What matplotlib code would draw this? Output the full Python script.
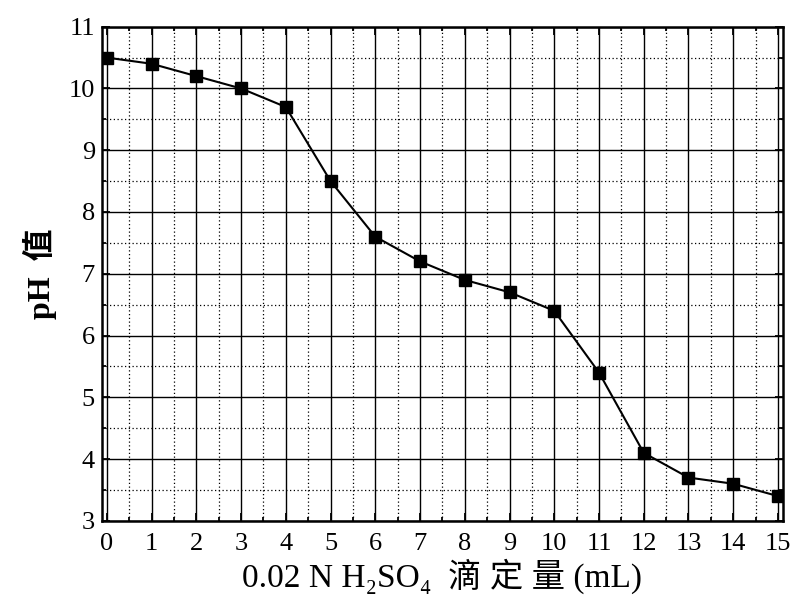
import matplotlib
matplotlib.use("Agg")
import matplotlib.pyplot as plt
from matplotlib.ticker import MultipleLocator

plt.rcParams['font.family'] = ['Liberation Serif', 'Noto Sans CJK TC']

volume = [0, 1, 2, 3, 4, 5, 6, 7, 8, 9, 10, 11, 12, 13, 14, 15]
ph = [10.5, 10.4, 10.2, 10.0, 9.7, 8.5, 7.6, 7.2, 6.9, 6.7, 6.4, 5.4, 4.1, 3.7, 3.6, 3.4]

fig = plt.figure(figsize=(7.9, 6.07), dpi=100)
ax = fig.add_axes([0.129, 0.142, 0.862, 0.814])

ax.plot(volume, ph, color='black', lw=1.5, marker='s', markersize=9, zorder=3)

ax.set_xlim(-0.11, 15.11)
ax.set_ylim(3, 11)
ax.xaxis.set_major_locator(MultipleLocator(1))
ax.xaxis.set_minor_locator(MultipleLocator(0.5))
ax.yaxis.set_major_locator(MultipleLocator(1))
ax.yaxis.set_minor_locator(MultipleLocator(0.5))

ax.grid(which='major', color='black', lw=1.0, ls='-')
ax.grid(which='minor', color='black', lw=0.9, ls=(0, (1, 2)))
ax.set_axisbelow(True)

ax.tick_params(which='both', direction='in', top=True, right=True, labelsize=19, width=1.3)
ax.tick_params(which='major', length=6, pad=5)
ax.tick_params(axis='x', which='major', pad=9)
ax.tick_params(which='minor', length=3)
for s in ax.spines.values():
    s.set_linewidth(1.8)

ax.set_xlabel('0.02 N H₂SO₄  滴 定 量 (mL)', fontsize=24, labelpad=2)
ax.set_ylabel('pH  值', fontsize=23, fontweight='bold', labelpad=8)

fig.savefig('out.png', dpi=100)
